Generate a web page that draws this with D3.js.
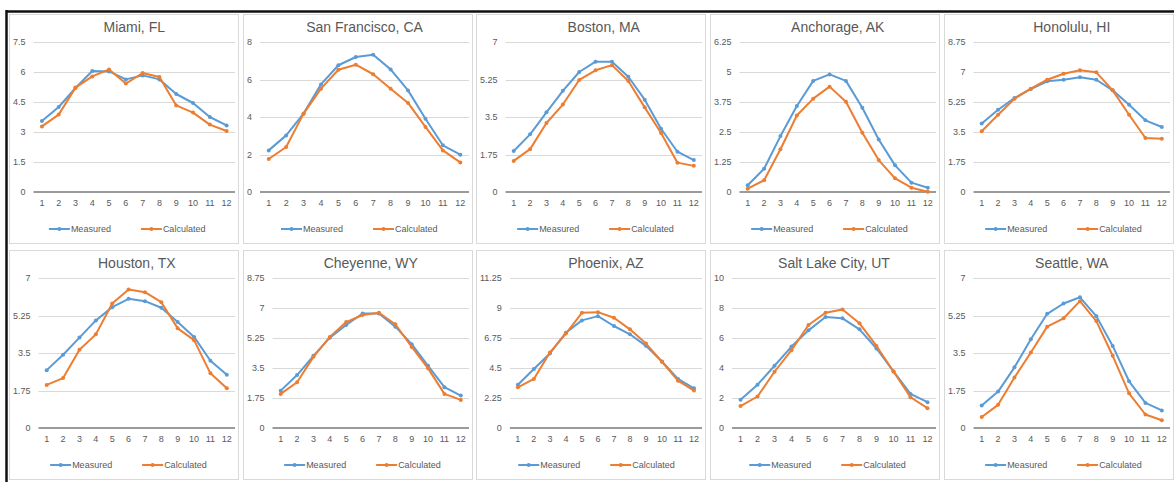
<!DOCTYPE html>
<html>
<head>
<meta charset="utf-8">
<script src="https://cdn.jsdelivr.net/npm/d3@7"></script>
<style>
  body { margin: 0; background: #fff; }
  svg { display: block; font-family: "Liberation Sans", Arial, sans-serif; }
</style>
</head>
<body>
<svg id="chart" width="1174" height="482"></svg>
<script>
// month numbers on the x axis
const months = [1, 2, 3, 4, 5, 6, 7, 8, 9, 10, 11, 12];

const cities = [
  'Miami, FL', 'San Francisco, CA', 'Boston, MA', 'Anchorage, AK', 'Honolulu, HI',
  'Houston, TX', 'Cheyenne, WY', 'Phoenix, AZ', 'Salt Lake City, UT', 'Seattle, WA'
];

// y axis max and step for each panel
const yMax = [7.5, 8, 7, 6.25, 8.75, 7, 8.75, 11.25, 10, 7];
const yStep = [1.5, 2, 1.75, 1.25, 1.75, 1.75, 1.75, 2.25, 2, 1.75];

const measured = [
  [3.55, 4.25, 5.2, 6.05, 6.03, 5.63, 5.83, 5.63, 4.9, 4.45, 3.75, 3.33],
  [2.22, 3.02, 4.18, 5.74, 6.76, 7.2, 7.32, 6.54, 5.42, 3.91, 2.49, 1.99],
  [1.91, 2.69, 3.72, 4.72, 5.6, 6.08, 6.08, 5.38, 4.31, 2.95, 1.88, 1.49],
  [0.28, 0.97, 2.33, 3.58, 4.63, 4.9, 4.63, 3.51, 2.19, 1.11, 0.39, 0.18],
  [3.99, 4.8, 5.48, 6.01, 6.46, 6.55, 6.69, 6.55, 5.93, 5.09, 4.18, 3.79],
  [2.7, 3.42, 4.22, 5.02, 5.64, 6.03, 5.92, 5.61, 4.95, 4.25, 3.14, 2.49],
  [2.18, 3.09, 4.21, 5.27, 6.01, 6.68, 6.68, 5.91, 4.89, 3.63, 2.38, 1.89],
  [3.25, 4.42, 5.59, 7.15, 8.07, 8.39, 7.65, 7.03, 6.16, 4.99, 3.68, 2.98],
  [1.88, 2.89, 4.15, 5.43, 6.51, 7.4, 7.31, 6.58, 5.3, 3.77, 2.27, 1.72],
  [1.05, 1.7, 2.83, 4.14, 5.33, 5.81, 6.1, 5.22, 3.83, 2.18, 1.17, 0.82]
];

const calculated = [
  [3.28, 3.87, 5.22, 5.78, 6.13, 5.42, 5.95, 5.75, 4.33, 3.97, 3.37, 3.05],
  [1.76, 2.4, 4.18, 5.51, 6.52, 6.79, 6.28, 5.51, 4.75, 3.47, 2.22, 1.58],
  [1.45, 2.0, 3.22, 4.08, 5.23, 5.68, 5.92, 5.18, 3.95, 2.75, 1.37, 1.22],
  [0.14, 0.49, 1.78, 3.19, 3.89, 4.39, 3.76, 2.47, 1.33, 0.57, 0.18, 0.01],
  [3.54, 4.51, 5.44, 6.03, 6.55, 6.9, 7.1, 6.98, 5.93, 4.51, 3.15, 3.11],
  [2.01, 2.33, 3.65, 4.37, 5.81, 6.46, 6.34, 5.87, 4.65, 4.1, 2.55, 1.85],
  [1.99, 2.67, 4.15, 5.31, 6.18, 6.59, 6.72, 6.05, 4.73, 3.48, 1.99, 1.64],
  [3.05, 3.68, 5.66, 7.08, 8.64, 8.69, 8.27, 7.4, 6.33, 4.97, 3.55, 2.81],
  [1.46, 2.1, 3.75, 5.19, 6.87, 7.68, 7.9, 6.98, 5.47, 3.77, 2.05, 1.32],
  [0.51, 1.08, 2.36, 3.52, 4.73, 5.12, 5.92, 4.99, 3.37, 1.62, 0.63, 0.36]
];

const seriesNames = ['Measured', 'Calculated'];
const colors = ['#5b9bd5', '#ed7d31'];

const svg = d3.select('#chart');
const textColor = '#595959';

const panelLefts = [9, 243, 476, 710, 944];
const panelTops = [14, 250];
const panelW = 229, panelH = 229;

// outer black frame (top and left edges)
svg.append('line').attr('x1', 6).attr('x2', 1174).attr('y1', 11.5).attr('y2', 11.5)
  .attr('stroke', '#111').attr('stroke-width', 2.5);
svg.append('line').attr('x1', 6.5).attr('x2', 6.5).attr('y1', 10).attr('y2', 482)
  .attr('stroke', '#111').attr('stroke-width', 2.5);

cities.forEach((city, i) => {
  const px = panelLefts[i % 5];
  const py = panelTops[Math.floor(i / 5)];
  const g = svg.append('g');

  g.append('rect')
    .attr('x', px + 0.5).attr('y', py + 0.5)
    .attr('width', panelW).attr('height', panelH)
    .attr('fill', '#fff').attr('stroke', '#d9d9d9');

  const ticks = d3.range(0, yMax[i] + 1e-9, yStep[i]);

  // tick labels first, so the plot can start after the widest one
  const yLabels = g.selectAll('.ylab').data(ticks).join('text')
    .attr('class', 'ylab')
    .attr('font-size', '9px')
    .attr('fill', textColor)
    .attr('text-anchor', 'end')
    .text((d) => d3.format('~g')(+d.toFixed(2)));
  let maxW = 0;
  yLabels.each(function () { maxW = Math.max(maxW, this.getComputedTextLength()); });

  const left = px + 4 + maxW + 8;
  const right = px + panelW - 3;
  const top = py + 28, bottom = py + 178;

  const x = d3.scalePoint().domain(months).range([left, right]).padding(0.5);
  const y = d3.scaleLinear().domain([0, yMax[i]]).range([bottom, top]);

  yLabels.attr('x', left - 8).attr('y', (d) => y(d) + 3);

  // gridlines
  g.selectAll('.grid').data(ticks.slice(1)).join('line')
    .attr('x1', left).attr('x2', right)
    .attr('y1', (d) => Math.round(y(d)) + 0.5).attr('y2', (d) => Math.round(y(d)) + 0.5)
    .attr('stroke', '#d9d9d9');

  // x axis
  g.append('line')
    .attr('x1', left).attr('x2', right)
    .attr('y1', bottom).attr('y2', bottom)
    .attr('stroke', '#7a7a7a').attr('stroke-width', 1.6);

  g.selectAll('.xlab').data(months).join('text')
    .attr('x', (d) => x(d)).attr('y', py + 192)
    .attr('font-size', '9px').attr('fill', textColor)
    .attr('text-anchor', 'middle')
    .text((d) => d);

  // title
  g.append('text')
    .attr('x', (left + right) / 2).attr('y', py + 18)
    .attr('font-size', '14px').attr('fill', textColor)
    .attr('text-anchor', 'middle')
    .text(city);

  // series
  const line = d3.line().x((d, j) => x(months[j])).y((d) => y(d));
  [measured[i], calculated[i]].forEach((vals, s) => {
    g.append('path').datum(vals)
      .attr('d', line)
      .attr('fill', 'none')
      .attr('stroke', colors[s])
      .attr('stroke-width', 2)
      .attr('stroke-linejoin', 'round');
    g.selectAll('.pt' + s).data(vals).join('circle')
      .attr('cx', (d, j) => x(months[j])).attr('cy', (d) => y(d))
      .attr('r', 2).attr('fill', colors[s]);
  });

  // legend
  const legCx = ((left + right) / 2 + px + panelW / 2) / 2;
  const legY = py + 215;
  const legStart = legCx - 80;
  const offsets = [0, 92];
  seriesNames.forEach((name, s) => {
    const lx = legStart + offsets[s];
    g.append('line')
      .attr('x1', lx).attr('x2', lx + 21)
      .attr('y1', legY).attr('y2', legY)
      .attr('stroke', colors[s]).attr('stroke-width', 2);
    g.append('circle').attr('cx', lx + 10.5).attr('cy', legY).attr('r', 2).attr('fill', colors[s]);
    g.append('text')
      .attr('x', lx + 22).attr('y', legY + 3)
      .attr('font-size', '9px').attr('fill', textColor)
      .text(name);
  });
});
</script>
</body>
</html>
